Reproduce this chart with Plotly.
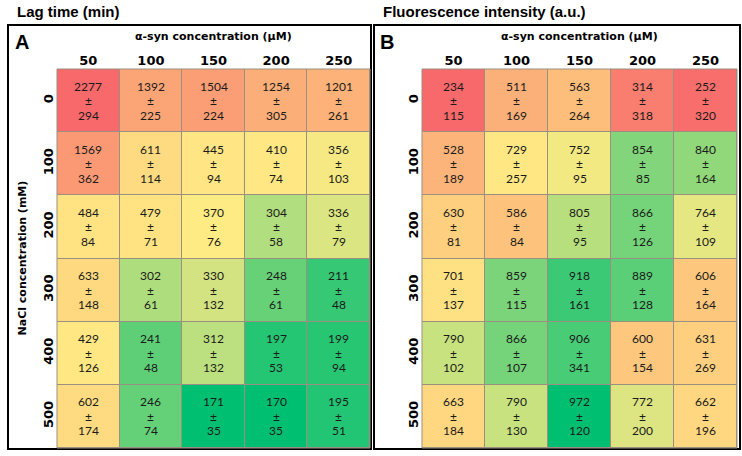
import numpy as np
import plotly.graph_objects as go

W, H = 742, 456

asyn = ["50", "100", "150", "200", "250"]
nacl = ["0", "100", "200", "300", "400", "500"]

lag_mean = [
    [2277, 1392, 1504, 1254, 1201],
    [1569, 611, 445, 410, 356],
    [484, 479, 370, 304, 336],
    [633, 302, 330, 248, 211],
    [429, 241, 312, 197, 199],
    [602, 246, 171, 170, 195],
]
lag_sd = [
    [294, 225, 224, 305, 261],
    [362, 114, 94, 74, 103],
    [84, 71, 76, 58, 79],
    [148, 61, 132, 61, 48],
    [126, 48, 132, 53, 94],
    [174, 74, 35, 35, 51],
]
fl_mean = [
    [234, 511, 563, 314, 252],
    [528, 729, 752, 854, 840],
    [630, 586, 805, 866, 764],
    [701, 859, 918, 889, 606],
    [790, 866, 906, 600, 631],
    [663, 790, 972, 772, 662],
]
fl_sd = [
    [115, 169, 264, 318, 320],
    [189, 257, 95, 85, 164],
    [81, 84, 95, 126, 109],
    [137, 115, 161, 128, 164],
    [102, 107, 341, 154, 269],
    [184, 130, 120, 200, 196],
]

RED = "rgb(248,105,107)"
YEL = "rgb(255,235,132)"
GRN = "rgb(0,191,112)"


def px(x):
    return x / W


def py(y):
    return 1 - y / H


def scale(vals, low_color, high_color):
    a = np.array(vals, dtype=float)
    lo, hi, mid = a.min(), a.max(), np.median(a)
    p = (mid - lo) / (hi - lo)
    return [[0, low_color], [p, YEL], [1, high_color]]


fig = go.Figure()

fig.add_trace(go.Heatmap(
    z=lag_mean, x=asyn, y=nacl,
    colorscale=scale(lag_mean, GRN, RED), showscale=False,
    xgap=1, ygap=1, hoverinfo="skip", xaxis="x", yaxis="y",
))
fig.add_trace(go.Heatmap(
    z=fl_mean, x=asyn, y=nacl,
    colorscale=scale(fl_mean, RED, GRN), showscale=False,
    xgap=1, ygap=1, hoverinfo="skip", xaxis="x2", yaxis="y2",
))

lab_font = dict(family="DejaVu Sans", size=13, color="black", weight="bold")
ax_common = dict(type="category", showgrid=False, zeroline=False, ticks="",
                 tickfont=lab_font, fixedrange=True, showline=False)

ydom = [py(448), py(69)]
xdomA = [px(57), px(370)]
xdomB = [px(422), px(737)]

fig.update_layout(
    width=W, height=H,
    margin=dict(l=0, r=0, t=0, b=0),
    paper_bgcolor="white", plot_bgcolor="#9a8f80",
    xaxis=dict(domain=xdomA, side="top", anchor="y", **ax_common),
    yaxis=dict(domain=ydom, autorange="reversed", tickangle=-90, anchor="x", **ax_common),
    xaxis2=dict(domain=xdomB, side="top", anchor="y2", **ax_common),
    yaxis2=dict(domain=ydom, autorange="reversed", tickangle=-90, anchor="x2", **ax_common),
)

shapes = []
for x0, x1 in [(8, 371), (374, 740)]:
    shapes.append(dict(type="rect", xref="paper", yref="paper",
                       x0=px(x0), x1=px(x1), y0=py(449), y1=py(25),
                       line=dict(color="black", width=2)))
for dom in [xdomA, xdomB]:
    shapes.append(dict(type="rect", xref="paper", yref="paper",
                       x0=dom[0], x1=dom[1], y0=ydom[0], y1=ydom[1],
                       line=dict(color="#9a8f80", width=1)))
fig.update_layout(shapes=shapes)

ann = []
cell_font = dict(family="Lato", size=12, color="#1a1a1a")
for (m, s, xa, ya) in [(lag_mean, lag_sd, "x", "y"), (fl_mean, fl_sd, "x2", "y2")]:
    for i in range(len(nacl)):
        for j in range(len(asyn)):
            for txt, shift in [(str(m[i][j]), 14.5), ("±", 0), (str(s[i][j]), -14.5)]:
                ann.append(dict(text=txt, x=j, y=i, xref=xa, yref=ya,
                                yshift=shift, showarrow=False, font=cell_font,
                                xanchor="center", yanchor="middle", borderpad=0))

ttl = dict(family="Liberation Sans", size=15, color="black", weight="bold")
ann.append(dict(text="Lag time (min)", x=px(15), y=py(12), xref="paper", yref="paper",
                xanchor="left", yanchor="middle", showarrow=False, font=ttl))
ann.append(dict(text="Fluorescence intensity (a.u.)", x=px(381), y=py(12), xref="paper", yref="paper",
                xanchor="left", yanchor="middle", showarrow=False, font=ttl))
big = dict(family="Liberation Sans", size=20, color="black", weight="bold")
ann.append(dict(text="A", x=px(13), y=py(42), xref="paper", yref="paper",
                xanchor="left", yanchor="middle", showarrow=False, font=big))
ann.append(dict(text="B", x=px(378), y=py(42), xref="paper", yref="paper",
                xanchor="left", yanchor="middle", showarrow=False, font=big))
sub = dict(family="DejaVu Sans", size=11, color="black", weight="bold")
for dom in [xdomA, xdomB]:
    ann.append(dict(text="α-syn concentration (µM)", x=(dom[0] + dom[1]) / 2, y=py(37),
                    xref="paper", yref="paper", xanchor="center", yanchor="middle",
                    showarrow=False, font=sub))
ann.append(dict(text="NaCl concentration (mM)", x=px(22), y=(ydom[0] + ydom[1]) / 2,
                xref="paper", yref="paper", xanchor="center", yanchor="middle",
                textangle=-90, showarrow=False, font=sub))
fig.update_layout(annotations=ann)

fig.write_html("out.html", config={"displayModeBar": False},
               post_script="document.body.style.margin='0px';")
